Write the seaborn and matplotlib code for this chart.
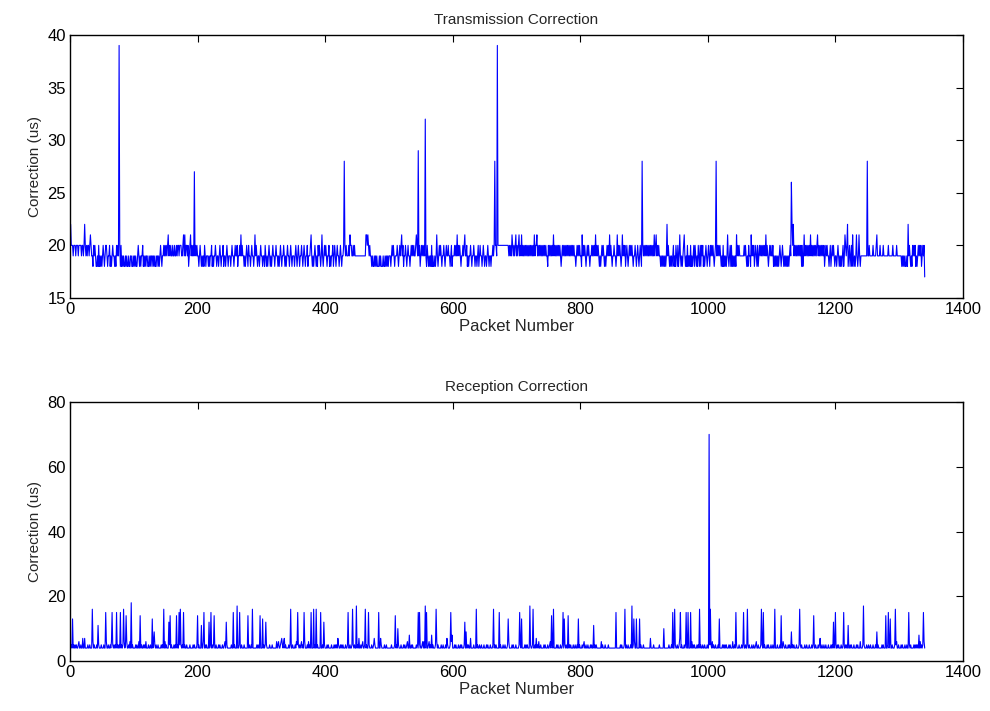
import numpy as np
import pandas as pd
import matplotlib
matplotlib.use("Agg")
import matplotlib.pyplot as plt
import seaborn as sns

# Transmission correction: one digit per packet, value = 17 + digit
tx_digits = (
    "5333233323 3323333233 2353232332 3432213232 1121312121 2321233212 2312123221 2132322313 1212112121 1211221121 "
    "2121123212 1223121212 2112121221 2121122121 2321223232 3234232322 3223223233 2333223424 2332312342 3232423232 "
    "2123212121 3212221212 2312122321 2212321223 1221232122 2123221232 2312232423 2212123213 2212322124 2321221232 "
    "2122132121 2321212322 1232212123 2122321212 3221232122 2123212321 2232123212 2312223421 2123212132 3212421232 "
    "3212231212 2312321232 2123212232 3232223243 3223232222 2222222222 2224434323 2212112121 2111212111 2112121212 "
    "2212323212 2232123234 2312232123 2212323232 2343232312 3232323213 2121213121 1212421232 3212232123 2232212312 "
    "2232324232 3212232342 2312122321 2232122123 1232212321 2212321221 2232323323 3333333333 3333333232 3243232342 "
    "3234232423 2323232323 2323232423 3423232323 2323232213 2323232423 2323232321 2323232323 2323232323 2212323232 "
    "2142323212 3232122323 2324232321 2123232121 2323242321 2232212423 2321242323 1232123232 3212232123 2123212323 "
    "2323232323 2323242342 3232212121 2121252321 2121231213 2131242121 2342121312 2131212313 2121321313 2312123212 "
    "3213232321 2322323232 1213121212 4212313121 2121423232 2222223232 1213221423 2312321312 3232323232 4232123232 "
    "2312121212 1232123212 1212121232 2535232323 2323231312 4232323232 4232323232 3423232323 2312323221 2312323212 "
    "2123212121 2312432351 2312314212 1242124212 2222222222 2232222232 2223422223 2222322222 2232222223 2222232222 "
    "2221212121 1215232121 3232312123 2323123230"
)
tx_spike_packets = [77, 195, 430, 546, 557, 666, 670, 897, 1013, 1131, 1250]
tx_spike_values = [39, 27, 28, 29, 32, 28, 39, 28, 28, 26, 28]

# Reception correction: baseline digits per packet (value = digit), spikes listed separately
rx_digits = (
    "4544454545 4456445444 4474444544 5444564544 4544544454 4454456445 4454645454 5464545454 5454645464 4546454544 "
    "4454544644 4544545464 4454454454 6454544544 4454544464 5444454454 4454546454 4545454645 4454444544 4454544454 "
    "4544454464 4545444545 4454544454 4454544454 4564454444 4454454544 4544544454 4454444454 5445454444 4454544544 "
    "4445454544 4454445444 4444456445 6454644544 4454544454 4454654545 4564545644 4546454544 4445454544 4454454654 "
    "4454544445 4445454544 5445454544 4544544454 4565454454 5444454564 4544544454 4454454544 4444444544 4454454444 "
    "4445444454 4544544454 4454544564 4544545444 4454544454 4564645454 4564544454 4454645444 4544544454 4544454644 "
    "4454544454 4545444544 4454544544 4454445454 4544544454 4454544454 4456454544 4454544454 4544454644 4454544454 "
    "4445454544 4454545444 4544544454 4454644544 4454544454 4564454544 4454544454 4544454544 4454544454 4544544454 "
    "4454564454 4544454544 4454544444 4454544454 4445444444 4444454444 4454544454 4544544454 4454644544 4454544454 "
    "4444444444 4444544444 4445444444 4444444454 4454544454 4544544454 4454544454 4454645454 4454544454 4544544454 "
    "4454546454 4544454544 4454545454 4454544464 4544544454 4454544454 4454544454 4544564454 4454544454 4454544454 "
    "4544544454 4454544654 4544454544 4454544454 4454545444 4544544454 4454544454 4454564454 4544544454 4454544454 "
    "4454544454 4544454544 4454544454 4454544464 4454544454 4544544454 4454545444 4454544454 4544544454 4454564454 "
    "4454544454 4544454544 4454545454 4464545464"
)
rx_spike_packets = [4, 20, 35, 44, 56, 66, 73, 79, 84, 88, 96, 110, 129, 132, 147, 155, 157, 167, 171, 173,
                    178, 200, 206, 210, 218, 221, 226, 245, 256, 262, 266, 279, 286, 298, 302, 307, 324, 332,
                    336, 346, 357, 367, 378, 382, 386, 393, 398, 420, 436, 443, 449, 453, 463, 468, 477, 484,
                    487, 510, 514, 532, 546, 548, 557, 559, 567, 574, 591, 597, 599, 619, 621, 628, 637, 664,
                    673, 687, 705, 708, 721, 726, 731, 755, 758, 773, 775, 781, 797, 821, 833, 856, 870, 881,
                    884, 888, 893, 910, 931, 945, 948, 956, 957, 966, 969, 973, 987, 1002, 1004, 1018, 1044,
                    1056, 1062, 1084, 1087, 1105, 1115, 1131, 1144, 1166, 1176, 1197, 1200, 1213, 1220, 1244,
                    1265, 1279, 1283, 1286, 1294, 1315, 1331, 1338]
rx_spike_values = [13, 7, 16, 11, 15, 15, 15, 15, 16, 14, 18, 14, 13, 9, 16, 12, 14, 14, 15, 16,
                   15, 14, 11, 15, 12, 15, 14, 12, 15, 17, 15, 14, 16, 14, 13, 12, 6, 7,
                   7, 16, 15, 15, 15, 16, 16, 15, 12, 7, 15, 16, 17, 7, 16, 15, 7, 15,
                   7, 14, 10, 8, 15, 15, 17, 15, 8, 16, 7, 15, 8, 12, 9, 7, 16, 16,
                   15, 13, 15, 13, 17, 16, 7, 14, 16, 15, 13, 14, 13, 11, 6, 15, 16, 17,
                   13, 13, 13, 7, 10, 15, 16, 7, 15, 15, 15, 15, 16, 70, 16, 13, 15,
                   15, 16, 16, 15, 16, 14, 9, 16, 14, 7, 12, 15, 15, 11, 17,
                   9, 14, 15, 13, 16, 15, 8, 15]

tx = np.array([17 + int(c) for c in tx_digits if c != " "], dtype=float)
for p, v in zip(tx_spike_packets, tx_spike_values):
    tx[p - 1] = v
rx = np.array([int(c) for c in rx_digits if c != " "], dtype=float)
for p, v in zip(rx_spike_packets, rx_spike_values):
    rx[p - 1] = v

df_tx = pd.DataFrame({"packet": np.arange(1, len(tx) + 1), "corr": tx})
df_rx = pd.DataFrame({"packet": np.arange(1, len(rx) + 1), "corr": rx})

sns.set_style("white")
plt.rcParams["font.family"] = ["Liberation Sans", "DejaVu Sans"]

fig = plt.figure(figsize=(9.9, 7.11), dpi=100)
ax1 = fig.add_axes([0.0707, 0.5809, 0.902, 0.370])
ax2 = fig.add_axes([0.0707, 0.0703, 0.902, 0.3643])

panels = [
    (ax1, df_tx, "Transmission Correction", (15, 40), np.arange(15, 41, 5)),
    (ax2, df_rx, "Reception Correction", (0, 80), np.arange(0, 81, 20)),
]
for ax, df, title, ylim, yticks in panels:
    sns.lineplot(data=df, x="packet", y="corr", ax=ax, color="#0000ff", linewidth=0.8)
    ax.set_xlim(0, 1400)
    ax.set_ylim(*ylim)
    ax.set_xticks(np.arange(0, 1401, 200))
    ax.set_yticks(yticks)
    ax.set_title(title, fontsize=11, pad=8)
    ax.set_xlabel("Packet Number", fontsize=12, labelpad=1)
    ax.set_ylabel("Correction (us)", fontsize=11, labelpad=4)
    ax.tick_params(direction="in", top=True, right=True, length=5, width=0.8,
                   labelsize=12, pad=3, colors="black")
    for s in ax.spines.values():
        s.set_color("black")
        s.set_linewidth(1.0)

fig.savefig("out.png", dpi=100)
